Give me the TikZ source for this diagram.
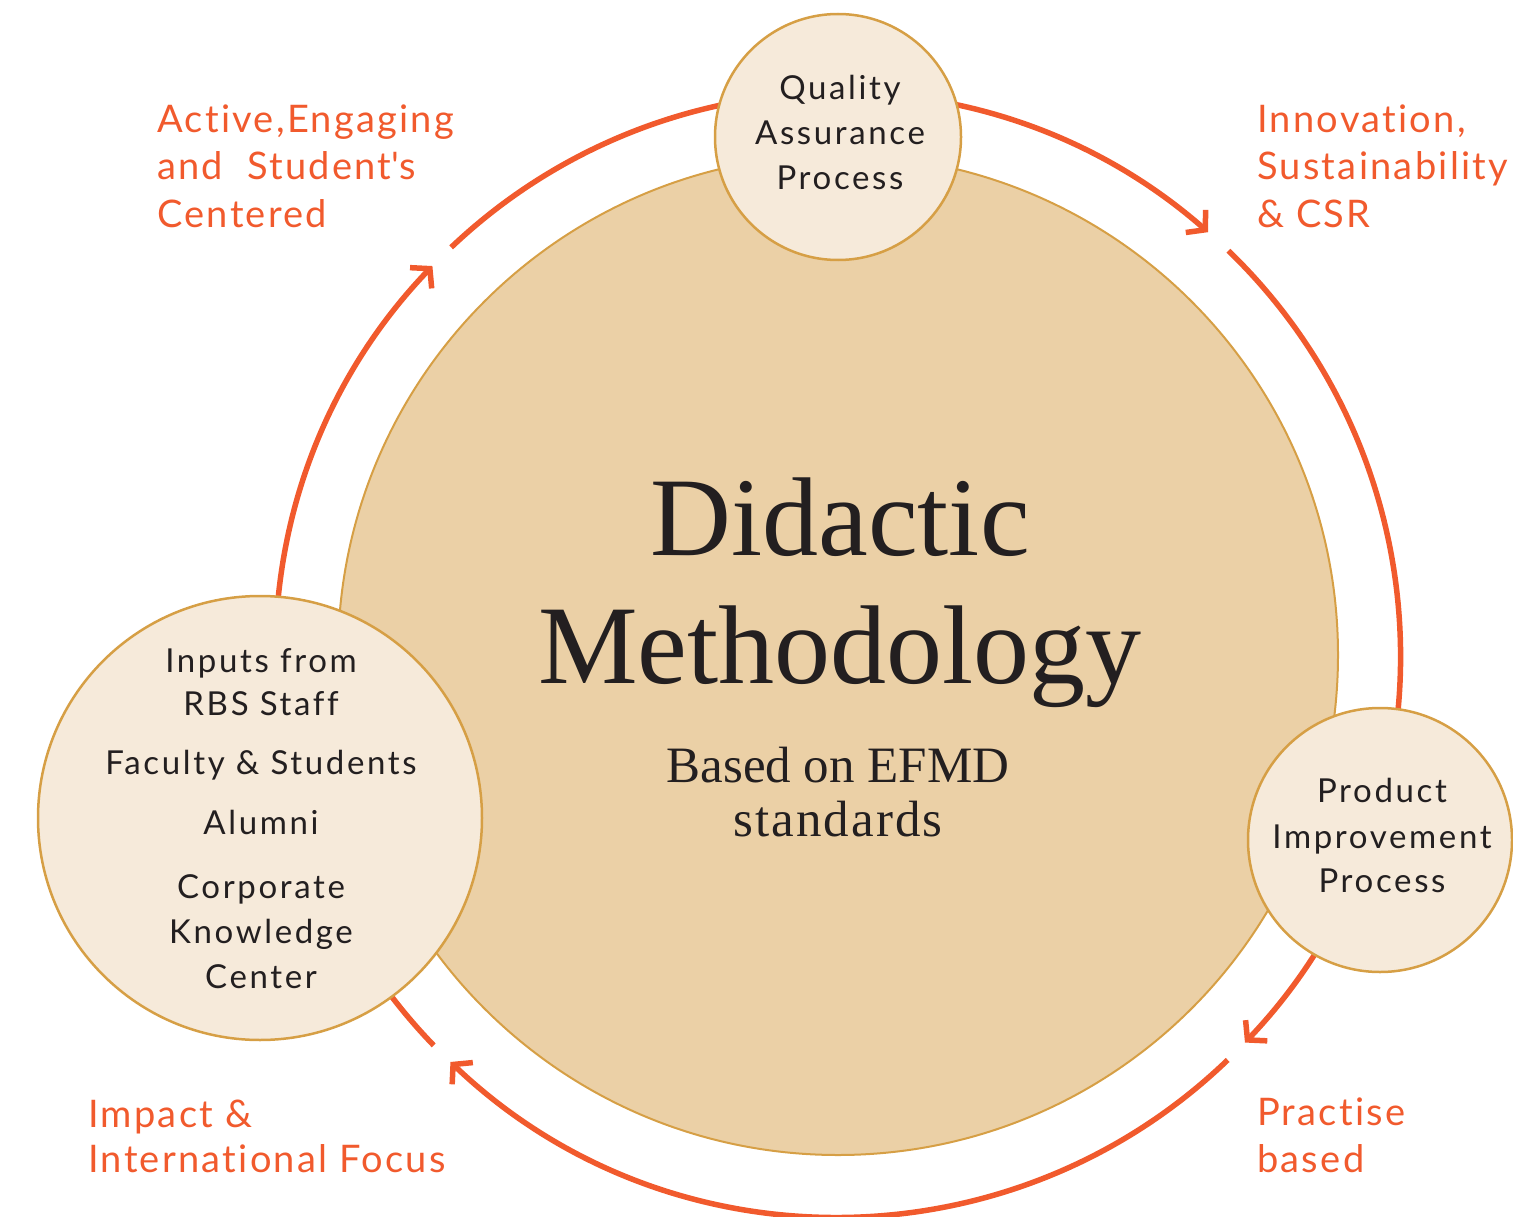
\documentclass[tikz,border=0pt]{standalone}
\usepackage{fontspec}
\usetikzlibrary{arrows.meta,calc}
\newfontfamily\gillfont[LetterSpace=6,Ligatures={TeX,NoCommon}]{Lato}
\newfontfamily\gillinner[LetterSpace=8,Ligatures={TeX,NoCommon}]{Lato}
\newfontfamily\serifbig{Liberation Serif}
\definecolor{arcorange}{HTML}{F15A2D}
\definecolor{bigfill}{HTML}{EBD0A6}
\definecolor{smallfill}{HTML}{F6EADA}
\definecolor{ringgold}{HTML}{D69F45}
\definecolor{inktext}{HTML}{231F20}
\tikzset{
  flow/.style={draw=arcorange, line width=5.5pt, -{Straight Barb[length=13pt,width=30pt]}},
  bigcirc/.style={circle, fill=bigfill, draw=ringgold, line width=2pt, inner sep=0pt, minimum size=1000pt},
  smallcirc/.style={circle, fill=smallfill, draw=ringgold, line width=2.5pt, inner sep=0pt},
  lab/.style={text=arcorange, font=\gillfont\fontsize{38}{47}\selectfont, anchor=base west, inner sep=0pt},
  intext/.style={text=inktext, font=\gillinner\fontsize{33}{40}\selectfont, anchor=base, inner sep=0pt},
  bigtext/.style={text=inktext, font=\serifbig\fontsize{112}{130}\selectfont, anchor=base, inner sep=0pt},
  subtext/.style={text=inktext, font=\serifbig\fontsize{51}{56}\selectfont, anchor=base, inner sep=0pt}
}
\begin{document}
\begin{tikzpicture}[x=1pt,y=-1pt]
\useasboundingbox (0,0) rectangle (1513,1217);
\coordinate (c) at (838,655);
% cycle arcs
\draw[flow] ($(c)+(136:562)$) arc[start angle=136, end angle=223.8, radius=562];
\draw[flow] ($(c)+(226.5:562)$) arc[start angle=226.5, end angle=311.2, radius=562];
\draw[flow] ($(c)+(-46:562)$) arc[start angle=-46, end angle=43.6, radius=562];
\draw[flow] ($(c)+(46.1:562)$) arc[start angle=46.1, end angle=133.6, radius=562];
% circles
\node[bigcirc] (big) at (c) {};
\node[smallcirc, minimum size=246pt] (qa) at (838,137) {};
\node[smallcirc, minimum size=264pt] (pip) at (1380,840) {};
\node[smallcirc, minimum size=444pt] (inp) at (260,818) {};
% centre text
\node[bigtext] (t1) at (840,555) {Didactic};
\node[bigtext] (t2) at (840,683) {Methodology};
\node[subtext] (t3) at (838,782) {Based on EFMD};
\node[subtext, font=\serifbig\fontsize{51}{56}\selectfont\addfontfeature{LetterSpace=4}] (t4) at (838,836) {standards};
% top circle
\node[intext] (q1) at (840,100) {Quality};
\node[intext] (q2) at (840,145) {Assurance};
\node[intext] (q3) at (840,190) {Process};
% right circle
\node[intext] (p1) at (1382,802) {Product};
\node[intext] (p2) at (1382,848) {Improvement};
\node[intext] (p3) at (1382,892) {Process};
% left circle
\node[intext] (i1) at (261,672) {Inputs from};
\node[intext] (i2) at (261,715) {RBS Staff};
\node[intext] (i3) at (261,774) {Faculty \& Students};
\node[intext] (i4) at (261,834) {Alumni};
\node[intext] (i5) at (261,898) {Corporate};
\node[intext] (i6) at (261,943) {Knowledge};
\node[intext] (i7) at (261,988) {Center};
% orange labels
\node[lab] (a1) at (157,133) {Active,Engaging};
\node[lab] (a2) at (157,180) {and\ \ Student\textquotesingle s};
\node[lab] (a3) at (157,228) {Centered};
\node[lab] (b1) at (1257,133) {Innovation,};
\node[lab] (b2) at (1257,180) {Sustainability};
\node[lab] (b3) at (1257,228) {\& CSR};
\node[lab] (d1) at (88,1127) {Impact \&};
\node[lab] (d2) at (88,1172) {International Focus};
\node[lab] (e1) at (1257,1125) {Practise};
\node[lab] (e2) at (1257,1172) {based};
\end{tikzpicture}
\end{document}
